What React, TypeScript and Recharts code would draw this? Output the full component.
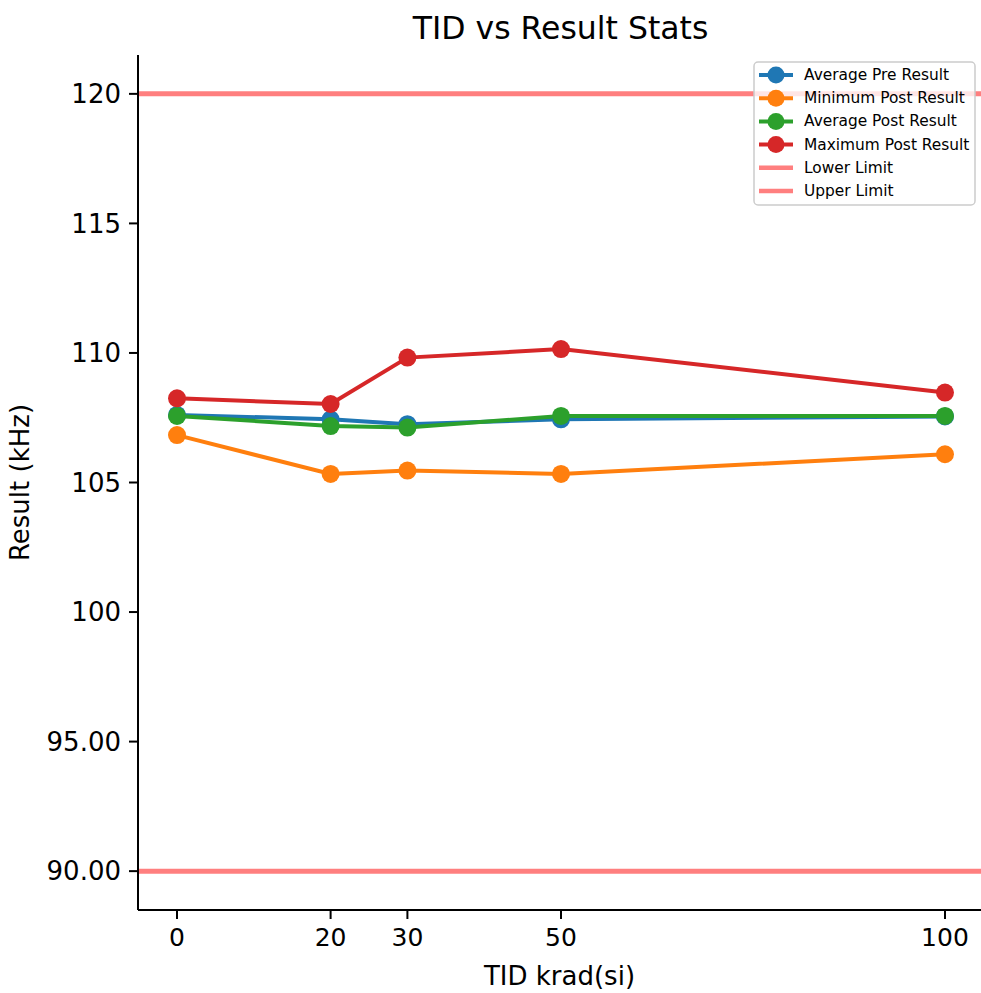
import React from 'react';
import { LineChart, Line, XAxis, YAxis, ReferenceLine, Legend } from 'recharts';

const tidValues = [0, 20, 30, 50, 100];
const averagePre = [107.61, 107.44, 107.25, 107.44, 107.55];
const minimumPost = [106.83, 105.33, 105.46, 105.33, 106.09];
const averagePost = [107.57, 107.18, 107.12, 107.57, 107.57];
const maximumPost = [108.25, 108.03, 109.82, 110.15, 108.47];
const lowerLimit = 90;
const upperLimit = 120;
const xTicks = [0, 20, 30, 50, 100];
const yTicks = [90, 95, 100, 105, 110, 115, 120];
const yTickLabels = ['90.00', '95.00', '100', '105', '110', '115', '120'];

const seriesDefs = [
  { key: 'avgPre', name: 'Average Pre Result', color: '#1f77b4', values: averagePre },
  { key: 'minPost', name: 'Minimum Post Result', color: '#ff7f0e', values: minimumPost },
  { key: 'avgPost', name: 'Average Post Result', color: '#2ca02c', values: averagePost },
  { key: 'maxPost', name: 'Maximum Post Result', color: '#d62728', values: maximumPost },
];
const limitDefs = [
  { name: 'Lower Limit', color: '#ff7f7f' },
  { name: 'Upper Limit', color: '#ff7f7f' },
];

const data = tidValues.map((t, i) => {
  const row: any = { tid: t };
  seriesDefs.forEach((s) => { row[s.key] = s.values[i]; });
  return row;
});

const FONT = '"DejaVu Sans", sans-serif';

const renderLegend = () => {
  const rowH = 23.2;
  return (
    <svg width={224} height={146} style={{ display: 'block' }}>
      <rect x={1} y={1} width={221} height={143} rx={4} ry={4} fill="rgba(255,255,255,0.8)" stroke="#cccccc" strokeWidth={1.5} />
      {seriesDefs.map((s, i) => {
        const cy = 14 + i * rowH;
        return (
          <g key={s.key}>
            <line x1={6} x2={40} y1={cy} y2={cy} stroke={s.color} strokeWidth={4} />
            <circle cx={23} cy={cy} r={8.5} fill={s.color} />
            <text x={51} y={cy} dominantBaseline="central" fontSize={15.4} fontFamily={FONT} fill="#000">{s.name}</text>
          </g>
        );
      })}
      {limitDefs.map((l, j) => {
        const cy = 14 + (4 + j) * rowH;
        return (
          <g key={l.name}>
            <line x1={6} x2={40} y1={cy} y2={cy} stroke={l.color} strokeWidth={4.5} />
            <text x={51} y={cy} dominantBaseline="central" fontSize={15.4} fontFamily={FONT} fill="#000">{l.name}</text>
          </g>
        );
      })}
    </svg>
  );
};

export default function App() {
  return (
    <div style={{ position: 'absolute', left: 0, top: 0, width: 981, height: 993, background: '#fff', fontFamily: FONT }}>
      <div style={{ position: 'absolute', left: 138, width: 845, top: 7, textAlign: 'center', fontSize: 31.5, fontFamily: FONT, color: '#000', lineHeight: '42px' }}>
        TID vs Result Stats
      </div>
      <LineChart width={981} height={993} data={data} margin={{ top: 55, right: 0, bottom: 0, left: 0 }}>
        <XAxis
          xAxisId="top"
          orientation="top"
          dataKey="tid"
          type="number"
          domain={[-5.08, 104.69]}
          allowDataOverflow
          height={0}
          tick={false}
          tickLine={false}
          axisLine={{ stroke: '#000', strokeWidth: 2 }}
        />
        <XAxis
          dataKey="tid"
          type="number"
          domain={[-5.08, 104.69]}
          allowDataOverflow
          ticks={xTicks}
          height={83}
          tickSize={9}
          tickMargin={9}
          tick={{ fill: '#000', fontSize: 25, fontFamily: FONT }}
          tickLine={{ stroke: '#000', strokeWidth: 2 }}
          axisLine={{ stroke: '#000', strokeWidth: 2 }}
          label={(props: any) => {
            const vb = props.viewBox;
            return (
              <text x={vb.x + vb.width / 2} y={vb.y + 66} textAnchor="middle" dominantBaseline="central" fontSize={26} fontFamily={FONT} fill="#000">TID krad(si)</text>
            );
          }}
        />
        <YAxis
          type="number"
          domain={[88.5, 121.5]}
          allowDataOverflow
          ticks={yTicks}
          width={138}
          tickSize={9}
          tickMargin={8}
          tickFormatter={(v: number) => yTickLabels[yTicks.indexOf(v)] ?? String(v)}
          tick={{ fill: '#000', fontSize: 26, fontFamily: FONT }}
          tickLine={{ stroke: '#000', strokeWidth: 2 }}
          axisLine={{ stroke: '#000', strokeWidth: 2 }}
          label={(props: any) => {
            const vb = props.viewBox;
            const cx = 20;
            const cy = vb.y + vb.height / 2;
            return (
              <text x={cx} y={cy} transform={`rotate(-90 ${cx} ${cy})`} textAnchor="middle" dominantBaseline="central" fontSize={26} fontFamily={FONT} fill="#000">Result (kHz)</text>
            );
          }}
        />
        {seriesDefs.map((s) => (
          <Line
            key={s.key}
            dataKey={s.key}
            name={s.name}
            type="linear"
            stroke={s.color}
            strokeWidth={4}
            dot={{ r: 9, fill: s.color, stroke: 'none', strokeWidth: 0 }}
            activeDot={false}
            isAnimationActive={false}
          />
        ))}
        <ReferenceLine y={lowerLimit} stroke="#ff7f7f" strokeWidth={5} ifOverflow="visible" />
        <ReferenceLine y={upperLimit} stroke="#ff7f7f" strokeWidth={5} ifOverflow="visible" />
        <Legend
          layout="horizontal"
          verticalAlign="middle"
          align="center"
          content={renderLegend}
          wrapperStyle={{ position: 'absolute', left: 753, top: 61, width: 224, height: 146 }}
        />
      </LineChart>
    </div>
  );
}
